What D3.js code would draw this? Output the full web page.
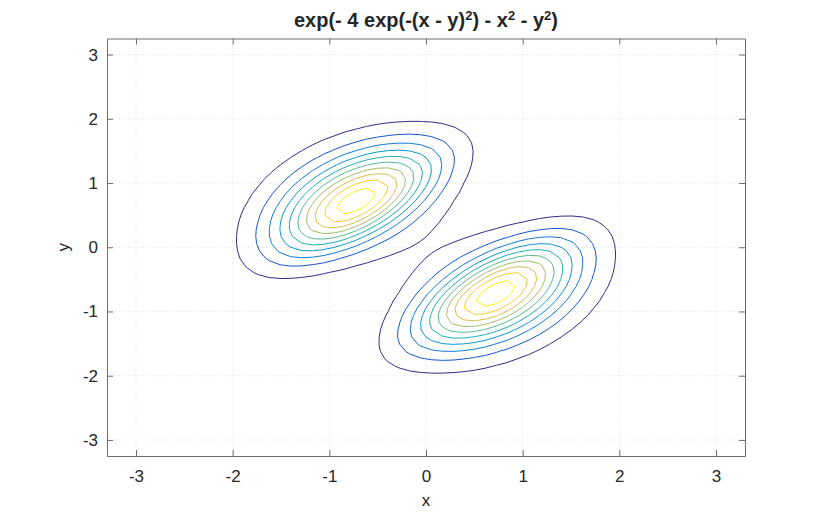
<!DOCTYPE html>
<html><head><meta charset="utf-8">
<script src="https://cdn.jsdelivr.net/npm/d3@7"></script>
<style>
body{margin:0;background:#fff}
text{font-family:"Liberation Sans",Arial,Helvetica,sans-serif;fill:#262626}
</style>
</head><body>
<svg id="chart" width="822" height="512"></svg>
<script>
// ---- data ----
const titleParts = [["exp(- 4 exp(-(x - y)", 0], ["2", 1], [") - x", 0], ["2", 1], [" - y", 0], ["2", 1], [")", 0]];
const xLabel = "x";
const yLabel = "y";
const xTicks = [-3, -2, -1, 0, 1, 2, 3];
const yTicks = [-3, -2, -1, 0, 1, 2, 3];
const xLimits = [-3.3, 3.3];
const yLimits = [-3.25, 3.25];
const levels = [0.02, 0.04, 0.06, 0.08, 0.10, 0.12, 0.14, 0.16, 0.18, 0.20];
const gridCount = 60;
const gridRange = [-3.3, 3.3];
const parulaStops = ["#352a87", "#0f5cdd", "#1481d6", "#06a4ca", "#2eb7a4", "#87bf77", "#d1bb59", "#fec832", "#f9fb0e"];
// surface from the title's formula
function surface(x, y) { return Math.exp(-4 * Math.exp(-(x - y) * (x - y)) - x * x - y * y); }

// ---- layout ----
const svg = d3.select("#chart");
const L = 107, R = 745, T = 38.5, B = 456;
const xs = d3.scaleLinear().domain(xLimits).range([L, R]);
const ys = d3.scaleLinear().domain(yLimits).range([B, T]);

// grid lines
const g = svg.append("g");
g.selectAll("line.gx").data(xTicks).join("line")
  .attr("x1", d => xs(d)).attr("x2", d => xs(d)).attr("y1", T).attr("y2", B)
  .attr("stroke", "#e2e2e2").attr("stroke-width", 1).attr("stroke-dasharray", "1,2");
g.selectAll("line.gy").data(yTicks).join("line")
  .attr("y1", d => ys(d)).attr("y2", d => ys(d)).attr("x1", L).attr("x2", R)
  .attr("stroke", "#e2e2e2").attr("stroke-width", 1).attr("stroke-dasharray", "1,2");

// contour grid
const step = (gridRange[1] - gridRange[0]) / (gridCount - 1);
const nodes = d3.range(gridCount).map(i => gridRange[0] + i * step);
const values = new Array(gridCount * gridCount);
for (let j = 0; j < gridCount; j++)
  for (let i = 0; i < gridCount; i++)
    values[i + j * gridCount] = surface(nodes[i], nodes[j]);

// calibrate d3.contours coordinate offset
const test = [];
for (let j = 0; j < 5; j++) for (let i = 0; i < 5; i++) test.push(i === 2 && j === 2 ? 1 : 0);
const tc = d3.contours().size([5, 5]).thresholds([0.5])(test)[0].coordinates[0][0];
const off = d3.mean(tc.slice(0, -1), p => p[0]) - 2;

const contours = d3.contours().size([gridCount, gridCount]).thresholds(levels)(values);
const color = d3.scaleLinear()
  .domain(parulaStops.map((c, i) => levels[0] + (levels[levels.length - 1] - levels[0]) * i / (parulaStops.length - 1)))
  .range(parulaStops);
const line = d3.line()
  .x(p => xs(gridRange[0] + (p[0] - off) * step))
  .y(p => ys(gridRange[0] + (p[1] - off) * step));

svg.append("clipPath").attr("id", "clip").append("rect")
  .attr("x", L).attr("y", T).attr("width", R - L).attr("height", B - T);
const cg = svg.append("g").attr("clip-path", "url(#clip)");
contours.forEach(c => {
  c.coordinates.forEach(poly => poly.forEach(ring => {
    cg.append("path").attr("d", line(ring) + "Z")
      .attr("fill", "none").attr("stroke", color(c.value)).attr("stroke-width", 1)
      .attr("stroke-linejoin", "round");
  }));
});

// axes
const axCol = "#6e6e6e";
function styleAxis(sel) {
  sel.select(".domain").attr("stroke", axCol);
  sel.selectAll(".tick line").attr("stroke", axCol);
  sel.selectAll(".tick text").attr("font-size", "17px").attr("fill", "#262626")
    .style("font-family", '"Liberation Sans",Arial,sans-serif');
}
const fmt = d => d < 0 ? "-" + Math.abs(d) : String(d);
svg.append("g").attr("transform", `translate(0,${B})`)
  .call(d3.axisBottom(xs).tickValues(xTicks).tickFormat(fmt).tickSizeInner(-6).tickSizeOuter(0).tickPadding(14))
  .call(styleAxis);
svg.append("g").attr("transform", `translate(0,${T})`)
  .call(d3.axisTop(xs).tickValues(xTicks).tickFormat("").tickSizeInner(-6).tickSizeOuter(0))
  .call(styleAxis);
svg.append("g").attr("transform", `translate(${L},0)`)
  .call(d3.axisLeft(ys).tickValues(yTicks).tickFormat(fmt).tickSizeInner(-6).tickSizeOuter(0).tickPadding(9))
  .call(styleAxis);
svg.append("g").attr("transform", `translate(${R},0)`)
  .call(d3.axisRight(ys).tickValues(yTicks).tickFormat("").tickSizeInner(-6).tickSizeOuter(0))
  .call(styleAxis);
svg.selectAll(".domain").attr("fill", "none");

// labels
svg.append("text").attr("x", (L + R) / 2).attr("y", 506).attr("text-anchor", "middle")
  .attr("font-size", "17px").text(xLabel);
svg.append("text").attr("transform", `translate(69,${(T + B) / 2}) rotate(-90)`).attr("text-anchor", "middle")
  .attr("font-size", "17px").text(yLabel);

const title = svg.append("text").attr("x", (L + R) / 2).attr("y", 27).attr("text-anchor", "middle")
  .attr("font-size", "20px").attr("font-weight", "bold");
titleParts.forEach(([s, sup], k) => {
  const prevSup = k > 0 ? titleParts[k - 1][1] : 0;
  const dy = sup && !prevSup ? -7 : (!sup && prevSup ? 7 : 0);
  title.append("tspan").attr("dy", dy).attr("font-size", sup ? "13px" : "20px").text(s);
});
</script>
</body></html>
